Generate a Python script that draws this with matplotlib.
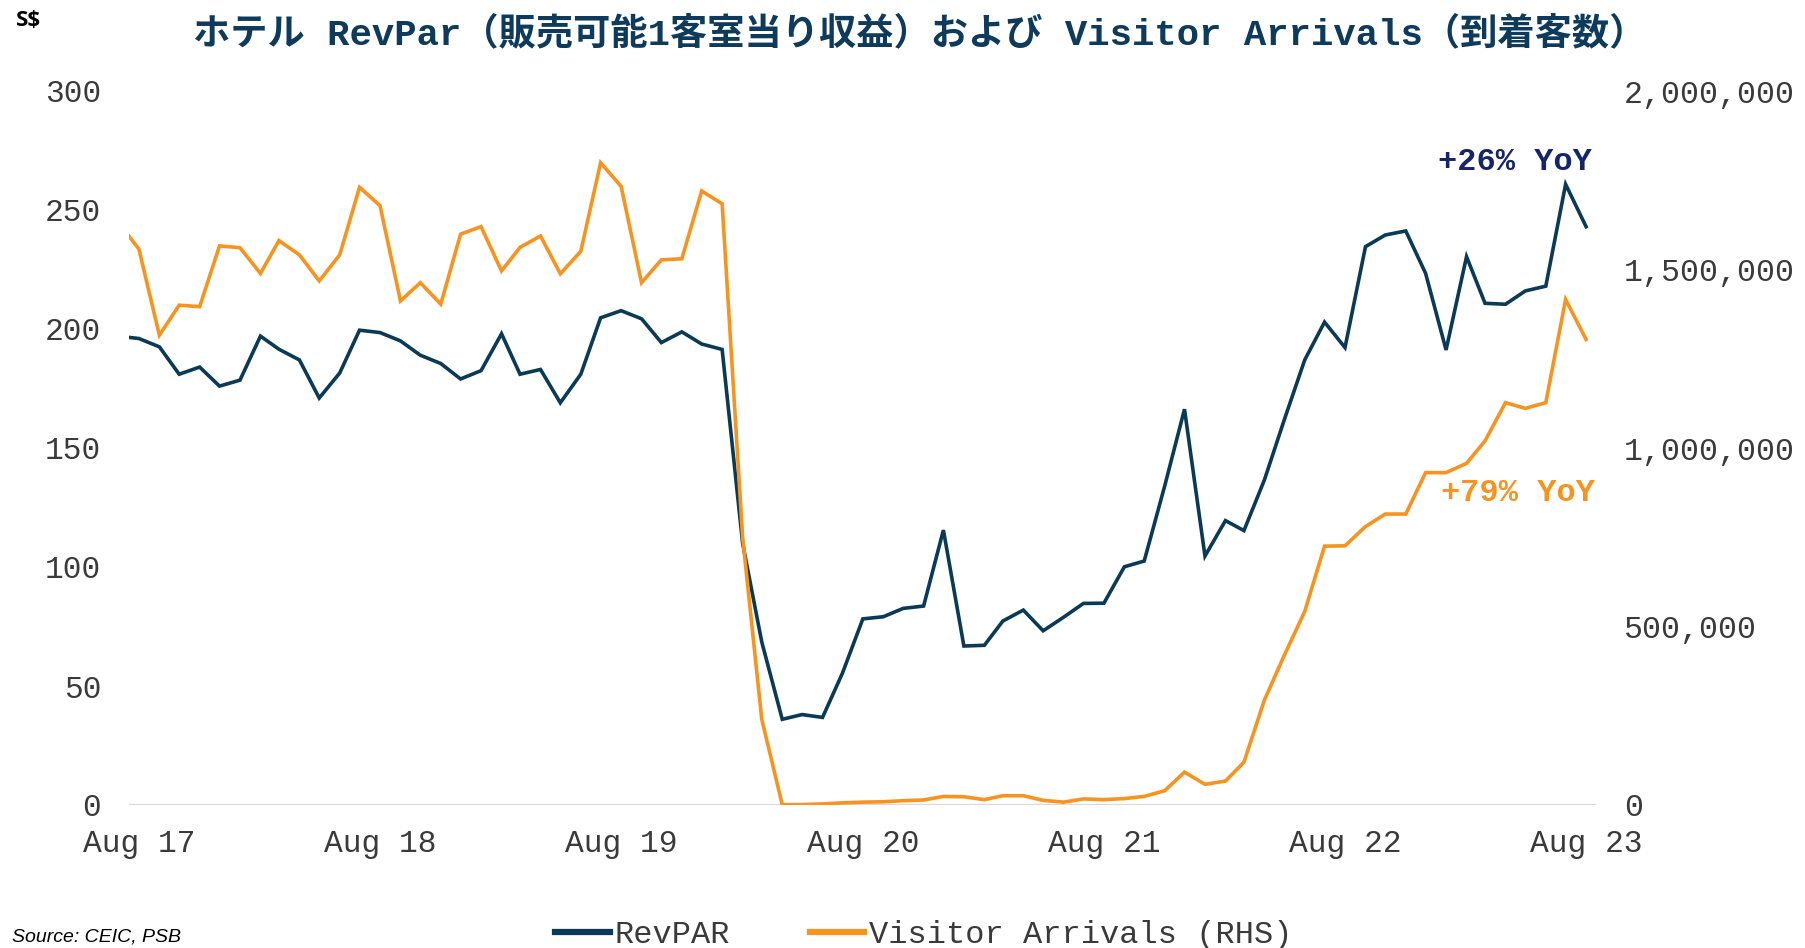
import matplotlib
matplotlib.use("Agg")
import matplotlib.pyplot as plt
from matplotlib.ticker import FuncFormatter
from matplotlib.lines import Line2D
import pandas as pd

# ---------------- data ----------------
start_month = "2017-07-01"
end_month = "2023-08-01"

revpar = [
    197, 196, 192.5, 181, 184, 176,                                   # Jul-Dec 17
    178.5, 197, 191.5, 187, 171, 181.5, 199.5, 198.5, 195, 189, 185.5, 179,   # 2018
    182.5, 198, 181, 183, 169, 181, 204.7, 207.7, 204.3, 194.3, 198.8, 193.7,  # 2019
    191.4, 110, 68.5, 36, 38, 36.8, 55.3, 78.2, 79.1, 82.6, 83.6, 115.5,      # 2020
    66.8, 67.1, 77.3, 81.9, 73.2, 78.9, 84.7, 84.8, 100.1, 102.5, 134, 166.3,  # 2021
    104.6, 119.5, 115.3, 136.6, 161.8, 187, 202.9, 192.2, 234.6, 239.5, 241.2, 223.4,  # 2022
    191.2, 230.4, 210.8, 210.4, 216, 218, 260.8, 243,                   # Jan-Aug 23
]

arrivals = [
    1632000, 1557000, 1316000, 1400000, 1396000, 1566000,
    1561000, 1489000, 1581000, 1541000, 1468000, 1541000, 1730000, 1679000, 1412000, 1463000, 1403000, 1599000,
    1620000, 1496000, 1562000, 1594000, 1488000, 1551000, 1799000, 1733000, 1463000, 1527000, 1530000, 1720000,
    1684000, 750000, 240000, 1000, 1000, 3000, 6000, 8000, 9000, 12000, 14000, 24000,
    23000, 15000, 26000, 26000, 13000, 8000, 17000, 15000, 18000, 24000, 40000, 92000,
    58000, 67000, 120000, 294000, 419000, 542000, 725000, 726000, 780000, 815000, 815000, 931000,
    931000, 957000, 1020000, 1127000, 1111000, 1127000, 1416000, 1304000,
]

tick_dates = ["2017-08-01", "2018-08-01", "2019-08-01", "2020-08-01",
              "2021-08-01", "2022-08-01", "2023-08-01"]
tick_labels = ["Aug 17", "Aug 18", "Aug 19", "Aug 20", "Aug 21", "Aug 22", "Aug 23"]

left_ticks = [0, 50, 100, 150, 200, 250, 300]
right_ticks = [0, 500000, 1000000, 1500000, 2000000]

title = "ホテル RevPar（販売可能1客室当り収益）および Visitor Arrivals（到着客数）"
series_names = ["RevPAR", "Visitor Arrivals (RHS)"]
yoy_labels = ["+26% YoY", "+79% YoY"]

# ---------------- style ----------------
C_BLUE = "#0B3A56"
C_ORANGE = "#F7931E"
C_TITLE = "#0E3B5B"
C_NAVY = "#16256A"
C_TICK = "#3A3A3A"
MONO = ["Liberation Mono", "DejaVu Sans Mono"]
TITLE_FAM = ["Liberation Mono", "Noto Sans CJK JP", "DejaVu Sans"]

dates = pd.date_range(start_month, end_month, freq="MS")

fig = plt.figure(figsize=(18.06, 9.48), dpi=100)
ax = fig.add_axes([129 / 1806, 1 - 805 / 948, (1596 - 129) / 1806, (805 - 91) / 948])
ax2 = ax.twinx()

ax.plot(dates, revpar, color=C_BLUE, lw=2.6, solid_joinstyle="miter", zorder=3)
ax2.plot(dates, arrivals, color=C_ORANGE, lw=2.6, solid_joinstyle="miter", zorder=3)

xl = (pd.Timestamp("2017-08-01") - pd.Timedelta(days=15), pd.Timestamp("2023-08-01") + pd.Timedelta(days=15))
ax.set_xlim(xl)
ax.set_ylim(0, 300)
ax2.set_ylim(0, 2000000)

for a in (ax, ax2):
    for s in a.spines.values():
        s.set_visible(False)
ax.axhline(0, color="#D9D9D9", lw=1.6, zorder=1)

ax.set_xticks([pd.Timestamp(d) for d in tick_dates])
ax.set_xticklabels(tick_labels)
ax.set_yticks(left_ticks)
ax2.set_yticks(right_ticks)
ax2.yaxis.set_major_formatter(FuncFormatter(lambda v, p: f"{int(v):,}"))

ax.tick_params(axis="x", length=0, pad=17, labelsize=22.5, labelcolor=C_TICK)
ax.tick_params(axis="y", length=0, pad=20, labelsize=22.5, labelcolor=C_TICK)
ax2.tick_params(axis="y", length=0, pad=20, labelsize=22.8, labelcolor=C_TICK)
for lab in ax.get_xticklabels() + ax.get_yticklabels() + ax2.get_yticklabels():
    lab.set_family(MONO)

# annotations
ax.text(1592 / 1806, 1 - 162 / 948, yoy_labels[0], transform=fig.transFigure,
        ha="right", va="center", fontsize=23, fontweight="bold", color=C_NAVY, family=MONO)
ax.text(1595 / 1806, 1 - 493 / 948, yoy_labels[1], transform=fig.transFigure,
        ha="right", va="center", fontsize=23, fontweight="bold", color=C_ORANGE, family=MONO)

# title
fig.text(920 / 1806, 1 - 34 / 948, title, ha="center", va="center", fontsize=26.8,
         fontweight="bold", color=C_TITLE, family=TITLE_FAM)
fig.text(16 / 1806, 1 - 20 / 948, "S$", ha="left", va="center", fontsize=16,
         fontweight="bold", color="black", family=["Open Sans", "DejaVu Sans"])
fig.text(12 / 1806, 2 / 948, "Source: CEIC, PSB", ha="left", va="bottom", fontsize=14,
         style="italic", color="black", family=["Liberation Sans", "DejaVu Sans"])

# legend
handles = [Line2D([0], [0], color=C_BLUE, lw=4.5),
           Line2D([0], [0], color=C_ORANGE, lw=4.5)]
leg = fig.legend(handles, series_names, loc="center", bbox_to_anchor=(924 / 1806, 1 - 935 / 948),
                 ncol=2, frameon=False, handlelength=1.7, handletextpad=0.15,
                 columnspacing=2.5, prop={"family": MONO, "size": 23})
for t in leg.get_texts():
    t.set_color(C_TICK)

fig.savefig("out.png", dpi=100)
